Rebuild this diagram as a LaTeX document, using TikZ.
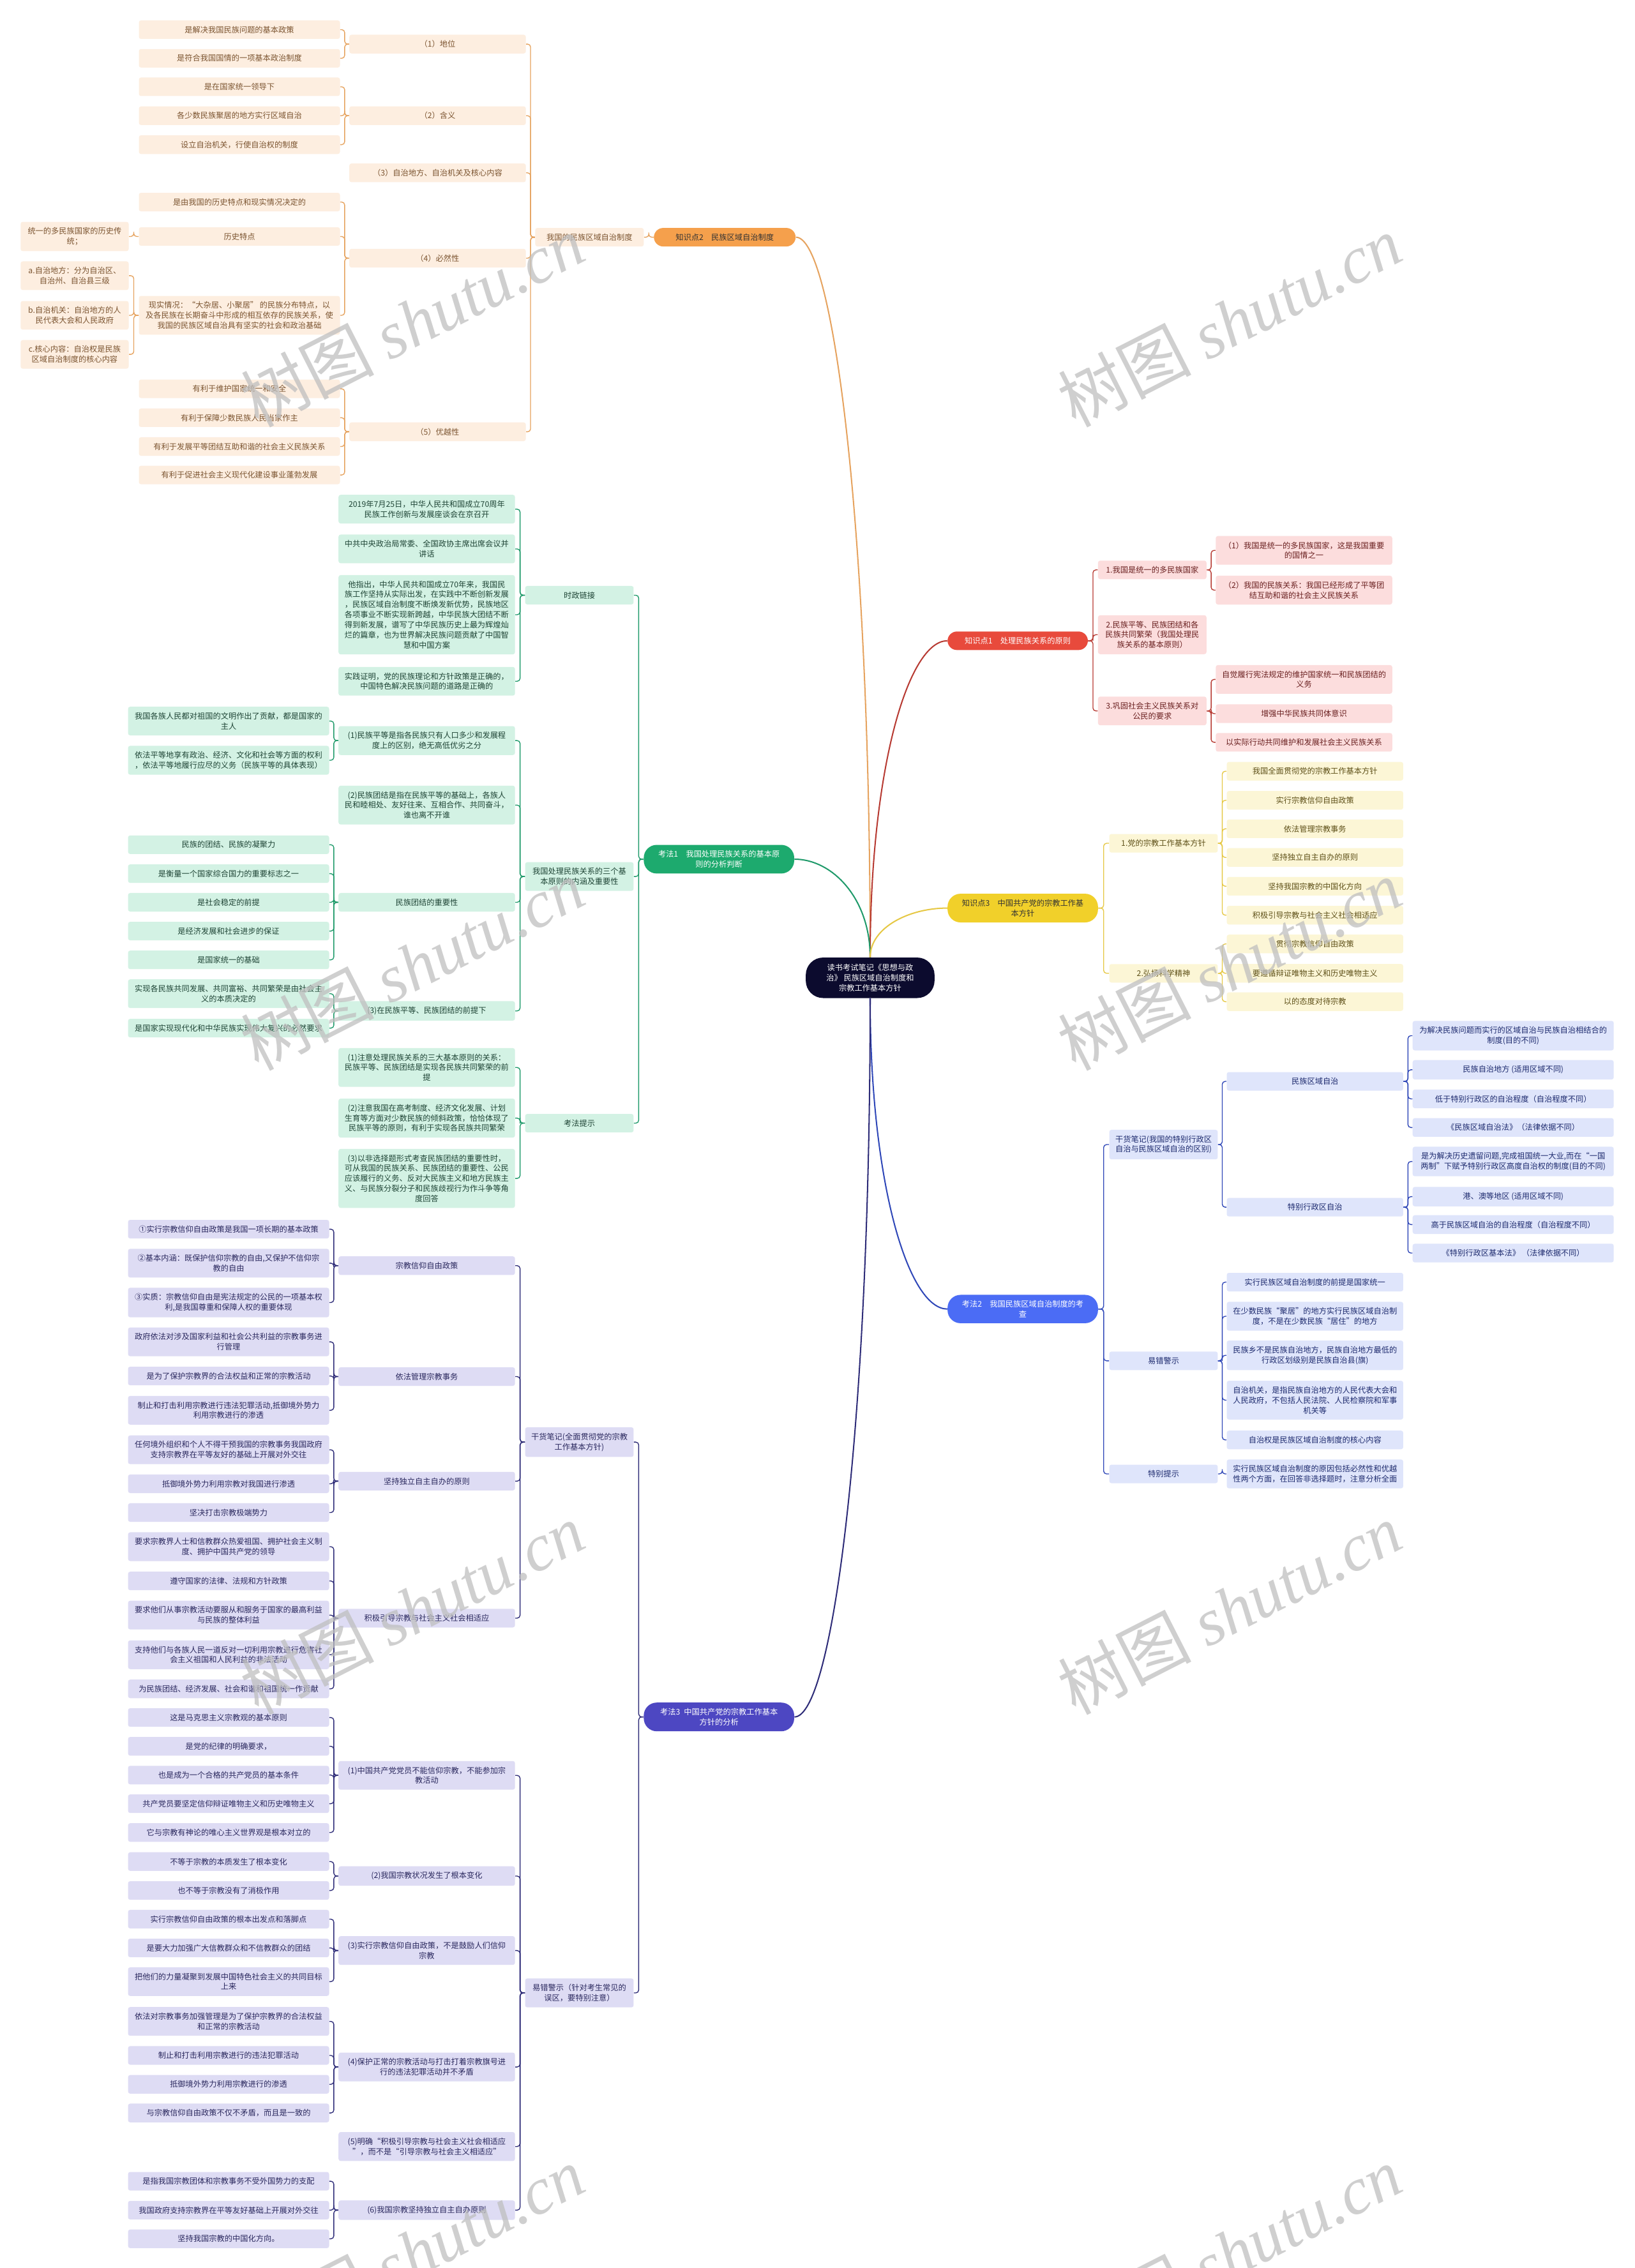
\documentclass[tikz,border=0pt]{standalone}
\usepackage{fontspec}
\setmainfont{Noto Sans CJK SC}
\newfontfamily\wmlatin{Liberation Serif}
\usetikzlibrary{calc,positioning}

\definecolor{rootbg}{HTML}{0C0B2E}
\definecolor{orK}{HTML}{F5A04C}\definecolor{orBg}{HTML}{FDEEE0}\definecolor{orTx}{HTML}{7B5430}\definecolor{orLn}{HTML}{E6A35F}
\definecolor{gnK}{HTML}{1DAA6E}\definecolor{gnBg}{HTML}{D3F2E4}\definecolor{gnTx}{HTML}{1E4435}\definecolor{gnLn}{HTML}{1F9A6A}
\definecolor{rdK}{HTML}{E84A3C}\definecolor{rdBg}{HTML}{FCDDDD}\definecolor{rdTx}{HTML}{6A2020}\definecolor{rdLn}{HTML}{B73A32}
\definecolor{ylK}{HTML}{F1D02A}\definecolor{ylBg}{HTML}{FCF6D6}\definecolor{ylTx}{HTML}{5E5018}\definecolor{ylLn}{HTML}{E6C844}
\definecolor{blK}{HTML}{4B6CF5}\definecolor{blBg}{HTML}{DFE5FB}\definecolor{blTx}{HTML}{1D2A6E}\definecolor{blLn}{HTML}{2F47B8}
\definecolor{puK}{HTML}{4D47C2}\definecolor{puBg}{HTML}{DEDCF4}\definecolor{puTx}{HTML}{2A285E}\definecolor{puLn}{HTML}{2E2C78}

\tikzset{
  box/.style={rounded corners=1.5pt, align=center, inner xsep=1pt, inner ysep=3.9pt,
    minimum height=12.5pt, font=\fontsize{5.4}{7}\selectfont},
  wa/.style={minimum width=75pt},  % second level
  wb/.style={minimum width=122pt}, % third level
  wc/.style={minimum width=139pt}, % leaves
  kp/.style={box, text=white, minimum width=104pt, rounded corners=9pt},
  ob/.style={box, fill=orBg, text=orTx},
  gb/.style={box, fill=gnBg, text=gnTx},
  pb/.style={box, fill=puBg, text=puTx},
  rb/.style={box, fill=rdBg, text=rdTx},
  yb/.style={box, fill=ylBg, text=ylTx},
  bb/.style={box, fill=blBg, text=blTx},
  % bracket connector: parent edge -> spine -> child edge
  br/.style={line width=0.6pt, rounded corners=2pt,
    to path={-| ($(\tikztostart)!0.5!(\tikztotarget)$) |- (\tikztotarget)}},
  % curves out of the central topic
  trunk/.style={line width=0.9pt,
    to path={.. controls ($(\tikztostart)!0.6!(\tikztostart|-\tikztotarget)$)
      and ($(\tikztotarget)!0.5!(\tikztostart|-\tikztotarget)$) .. (\tikztotarget)}},
  wmtext/.style={rotate=27, text=black!25, opacity=0.75, inner sep=0pt,
    font=\fontsize{46}{46}\selectfont}
}

\begin{document}
\begin{tikzpicture}[x=1pt, y=-1pt]

	\useasboundingbox (0,0) rectangle (1130,1568);
	\fill[white] (0,0) rectangle (1130,1568);

	% column centres
	\def\oxb{407.5} \def\oxc{302.5} \def\oxd{165.5} \def\oxe{51.6}
	\def\gxb{400.5} \def\gxc{295} \def\gxd{158}
	\def\rxb{796.5} \def\rxc{901.4}
	\def\bxb{804.3} \def\bxc{909} \def\bxd{1046}

	% central topic and main branches
	\node[box, fill=rootbg, text=white, minimum width=89pt, minimum height=28pt, rounded corners=12pt]
		(root) at (601.5,676) {读书考试笔记《思想与政\\治》 民族区域自治制度和\\宗教工作基本方针};
	\node[kp, fill=orK, text=black!80, minimum width=98pt, rounded corners=6.5pt] (kzs2) at (501,164) {知识点2\quad 民族区域自治制度};
	\node[kp, fill=rdK, minimum width=97pt, rounded corners=6.5pt] (kzs1) at (703.5,443) {知识点1\quad 处理民族关系的原则};
	\node[kp, fill=gnK] (kf1) at (497,594) {考法1\quad 我国处理民族关系的基本原\\则的分析判断};
	\node[kp, fill=ylK, text=black!80] (kzs3) at (707,627.8) {知识点3\quad 中国共产党的宗教工作基\\本方针};
	\node[kp, fill=blK] (kf2) at (707,905) {考法2\quad 我国民族区域自治制度的考\\查};
	\node[kp, fill=puK] (kf3) at (497,1187) {考法3\enspace 中国共产党的宗教工作基本\\方针的分析};

	\draw[orLn, trunk] (root.north) to (kzs2.east);
	\draw[rdLn, trunk] (root.north) to (kzs1.west);
	\draw[gnLn, trunk] (root.north) to (kf1.east);
	\draw[ylLn, trunk] (root.north) to (kzs3.west);
	\draw[blLn, trunk] (root.south) to (kf2.west);
	\draw[puLn, trunk] (root.south) to (kf3.east);

	% ---------- knowledge point 2 (orange) ----------
	\node[ob, wa] (o2) at (\oxb,164) {我国的民族区域自治制度};
	\draw[orLn, br] (kzs2.west) to (o2.east);
	\foreach \i/\y/\t in {1/30.5/{（1）地位}, 2/80/{（2）含义}, 3/119.5/{（3）自治地方、自治机关及核心内容},
		4/178.5/{（4）必然性}, 5/298.5/{（5）优越性}} {
		\node[ob, wb] (o3-\i) at (\oxc,\y) {\t};
		\draw[orLn, br] (o2.west) to (o3-\i.east);
	}
	\foreach \i/\p/\y/\t in {
		1/1/20.5/{是解决我国民族问题的基本政策},
		2/1/40.3/{是符合我国国情的一项基本政治制度},
		3/2/60/{是在国家统一领导下},
		4/2/80/{各少数民族聚居的地方实行区域自治},
		5/2/100/{设立自治机关，行使自治权的制度},
		6/4/139.7/{是由我国的历史特点和现实情况决定的},
		7/4/163.5/{历史特点},
		8/4/218/{现实情况：“大杂居、小聚居” 的民族分布特点，以\\及各民族在长期奋斗中形成的相互依存的民族关系，使\\我国的民族区域自治具有坚实的社会和政治基础},
		9/5/268.8/{有利于维护国家统一和安全},
		10/5/288.8/{有利于保障少数民族人民当家作主},
		11/5/308.7/{有利于发展平等团结互助和谐的社会主义民族关系},
		12/5/328.4/{有利于促进社会主义现代化建设事业蓬勃发展}} {
		\node[ob, wc] (o4-\i) at (\oxd,\y) {\t};
		\draw[orLn, br] (o3-\p.west) to (o4-\i.east);
	}
	\foreach \i/\p/\y/\t in {
		1/7/163.5/{统一的多民族国家的历史传\\统；},
		2/8/190.6/{a.自治地方：分为自治区、\\自治州、自治县三级},
		3/8/218/{b.自治机关：自治地方的人\\民代表大会和人民政府},
		4/8/245/{c.核心内容：自治权是民族\\区域自治制度的核心内容}} {
		\node[ob, minimum width=74.7pt] (o5-\i) at (\oxe,\y) {\t};
		\draw[orLn, br] (o4-\p.west) to (o5-\i.east);
	}

	% ---------- method 1 (green) ----------
	\foreach \i/\y/\t in {1/411.5/{时政链接}, 2/606/{我国处理民族关系的三个基\\本原则的内涵及重要性}, 3/776.5/{考法提示}} {
		\node[gb, wa] (g2-\i) at (\gxb,\y) {\t};
		\draw[gnLn, br] (kf1.west) to (g2-\i.east);
	}
	\foreach \i/\p/\y/\t in {
		1/1/352/{2019年7月25日，中华人民共和国成立70周年\\民族工作创新与发展座谈会在京召开},
		2/1/379.5/{中共中央政治局常委、全国政协主席出席会议并\\讲话},
		3/1/425/{他指出，中华人民共和国成立70年来，我国民\\族工作坚持从实际出发，在实践中不断创新发展\\，民族区域自治制度不断焕发新优势，民族地区\\各项事业不断实现新跨越，中华民族大团结不断\\得到新发展，谱写了中华民族历史上最为辉煌灿\\烂的篇章，也为世界解决民族问题贡献了中国智\\慧和中国方案},
		4/1/471/{实践证明，党的民族理论和方针政策是正确的，\\中国特色解决民族问题的道路是正确的},
		5/2/512/{(1)民族平等是指各民族只有人口多少和发展程\\度上的区别，绝无高低优劣之分},
		6/2/556.6/{(2)民族团结是指在民族平等的基础上，各族人\\民和睦相处、友好往来、互相合作、共同奋斗，\\谁也离不开谁},
		7/2/623.8/{民族团结的重要性},
		8/2/698.9/{(3)在民族平等、民族团结的前提下},
		9/3/738/{(1)注意处理民族关系的三大基本原则的关系：\\民族平等、民族团结是实现各民族共同繁荣的前\\提},
		10/3/773/{(2)注意我国在高考制度、经济文化发展、计划\\生育等方面对少数民族的倾斜政策，恰恰体现了\\民族平等的原则，有利于实现各民族共同繁荣},
		11/3/814.7/{(3)以非选择题形式考查民族团结的重要性时，\\可从我国的民族关系、民族团结的重要性、公民\\应该履行的义务、反对大民族主义和地方民族主\\义、与民族分裂分子和民族歧视行为作斗争等角\\度回答}} {
		\node[gb, wb] (g3-\i) at (\gxc,\y) {\t};
		\draw[gnLn, br] (g2-\p.west) to (g3-\i.east);
	}
	\foreach \i/\p/\y/\t in {
		1/5/498.5/{我国各族人民都对祖国的文明作出了贡献，都是国家的\\主人},
		2/5/525.6/{依法平等地享有政治、经济、文化和社会等方面的权利\\，依法平等地履行应尽的义务（民族平等的具体表现）},
		3/7/584/{民族的团结、民族的凝聚力},
		4/7/604/{是衡量一个国家综合国力的重要标志之一},
		5/7/623.8/{是社会稳定的前提},
		6/7/643.7/{是经济发展和社会进步的保证},
		7/7/663.6/{是国家统一的基础},
		8/8/687/{实现各民族共同发展、共同富裕、共同繁荣是由社会主\\义的本质决定的},
		9/8/710.8/{是国家实现现代化和中华民族实现伟大复兴的必然要求}} {
		\node[gb, wc] (g4-\i) at (\gxd,\y) {\t};
		\draw[gnLn, br] (g3-\p.west) to (g4-\i.east);
	}

	% ---------- method 3 (lavender) ----------
	\foreach \i/\y/\t in {1/997/{干货笔记(全面贯彻党的宗教\\工作基本方针)}, 2/1377.8/{易错警示（针对考生常见的\\误区，要特别注意）}} {
		\node[pb, wa] (p2-\i) at (\gxb,\y) {\t};
		\draw[puLn, br] (kf3.west) to (p2-\i.east);
	}
	\foreach \i/\p/\y/\t in {
		1/1/875/{宗教信仰自由政策},
		2/1/951.7/{依法管理宗教事务},
		3/1/1024/{坚持独立自主自办的原则},
		4/1/1118.7/{积极引导宗教与社会主义社会相适应},
		5/2/1227.4/{(1)中国共产党党员不能信仰宗教，不能参加宗\\教活动},
		6/2/1297/{(2)我国宗教状况发生了根本变化},
		7/2/1348.5/{(3)实行宗教信仰自由政策，不是鼓励人们信仰\\宗教},
		8/2/1429/{(4)保护正常的宗教活动与打击打着宗教旗号进\\行的违法犯罪活动并不矛盾},
		9/2/1484/{(5)明确“积极引导宗教与社会主义社会相适应\\”，而不是“引导宗教与社会主义相适应”},
		10/2/1528/{(6)我国宗教坚持独立自主自办原则}} {
		\node[pb, wb] (p3-\i) at (\gxc,\y) {\t};
		\draw[puLn, br] (p2-\p.west) to (p3-\i.east);
	}
	\foreach \i/\p/\y/\t in {
		1/1/849.8/{①实行宗教信仰自由政策是我国一项长期的基本政策},
		2/1/873.3/{②基本内涵：既保护信仰宗教的自由,又保护不信仰宗\\教的自由},
		3/1/900.5/{③实质：宗教信仰自由是宪法规定的公民的一项基本权\\利,是我国尊重和保障人权的重要体现},
		4/2/927.7/{政府依法对涉及国家利益和社会公共利益的宗教事务进\\行管理},
		5/2/951.3/{是为了保护宗教界的合法权益和正常的宗教活动},
		6/2/975/{制止和打击利用宗教进行违法犯罪活动,抵御境外势力\\利用宗教进行的渗透},
		7/3/1002.3/{任何境外组织和个人不得干预我国的宗教事务我国政府\\支持宗教界在平等友好的基础上开展对外交往},
		8/3/1025.8/{抵御境外势力利用宗教对我国进行渗透},
		9/3/1045.7/{坚决打击宗教极端势力},
		10/4/1069.3/{要求宗教界人士和信教群众热爱祖国、拥护社会主义制\\度、拥护中国共产党的领导},
		11/4/1093/{遵守国家的法律、法规和方针政策},
		12/4/1116.6/{要求他们从事宗教活动要服从和服务于国家的最高利益\\与民族的整体利益},
		13/4/1144/{支持他们与各族人民一道反对一切利用宗教进行危害社\\会主义祖国和人民利益的非法活动},
		14/4/1167.6/{为民族团结、经济发展、社会和谐和祖国统一作贡献},
		15/5/1187.4/{这是马克思主义宗教观的基本原则},
		16/5/1207.3/{是党的纪律的明确要求，},
		17/5/1227.2/{也是成为一个合格的共产党员的基本条件},
		18/5/1247/{共产党员要坚定信仰辩证唯物主义和历史唯物主义},
		19/5/1266.9/{它与宗教有神论的唯心主义世界观是根本对立的},
		20/6/1287/{不等于宗教的本质发生了根本变化},
		21/6/1307/{也不等于宗教没有了消极作用},
		22/7/1326.8/{实行宗教信仰自由政策的根本出发点和落脚点},
		23/7/1346.7/{是要大力加强广大信教群众和不信教群众的团结},
		24/7/1370/{把他们的力量凝聚到发展中国特色社会主义的共同目标\\上来},
		25/8/1397.5/{依法对宗教事务加强管理是为了保护宗教界的合法权益\\和正常的宗教活动},
		26/8/1421/{制止和打击利用宗教进行的违法犯罪活动},
		27/8/1441/{抵御境外势力利用宗教进行的渗透},
		28/8/1460.8/{与宗教信仰自由政策不仅不矛盾，而且是一致的},
		29/10/1508/{是指我国宗教团体和宗教事务不受外国势力的支配},
		30/10/1528/{我国政府支持宗教界在平等友好基础上开展对外交往},
		31/10/1547.8/{坚持我国宗教的中国化方向。}} {
		\node[pb, wc] (p4-\i) at (\gxd,\y) {\t};
		\draw[puLn, br] (p3-\p.west) to (p4-\i.east);
	}

	% ---------- knowledge point 1 (red) ----------
	\foreach \i/\y/\t in {1/394/{1.我国是统一的多民族国家},
		2/438.8/{2.民族平等、民族团结和各\\民族共同繁荣（我国处理民\\族关系的基本原则）},
		3/491.5/{3.巩固社会主义民族关系对\\公民的要求}} {
		\node[rb, wa] (r2-\i) at (\rxb,\y) {\t};
		\draw[rdLn, br] (kzs1.east) to (r2-\i.west);
	}
	\foreach \i/\p/\y/\t in {
		1/1/380.5/{（1）我国是统一的多民族国家，这是我国重要\\的国情之一},
		2/1/408/{（2）我国的民族关系：我国已经形成了平等团\\结互助和谐的社会主义民族关系},
		3/3/469.7/{自觉履行宪法规定的维护国家统一和民族团结的\\义务},
		4/3/493.4/{增强中华民族共同体意识},
		5/3/513.2/{以实际行动共同维护和发展社会主义民族关系}} {
		\node[rb, wb] (r3-\i) at (\rxc,\y) {\t};
		\draw[rdLn, br] (r2-\p.east) to (r3-\i.west);
	}

	% ---------- knowledge point 3 (yellow) ----------
	\foreach \i/\y/\t in {1/583/{1.党的宗教工作基本方针}, 2/672.9/{2.弘扬科学精神}} {
		\node[yb, wa] (y2-\i) at (\bxb,\y) {\t};
		\draw[ylLn, br] (kzs3.east) to (y2-\i.west);
	}
	\foreach \i/\p/\y/\t in {
		1/1/533.2/{我国全面贯彻党的宗教工作基本方针},
		2/1/553.3/{实行宗教信仰自由政策},
		3/1/573/{依法管理宗教事务},
		4/1/592.8/{坚持独立自主自办的原则},
		5/1/612.7/{坚持我国宗教的中国化方向},
		6/1/632.7/{积极引导宗教与社会主义社会相适应},
		7/2/652.6/{贯彻宗教信仰自由政策},
		8/2/672.9/{要遵循辩证唯物主义和历史唯物主义},
		9/2/692.5/{以的态度对待宗教}} {
		\node[yb, wb] (y3-\i) at (\bxc,\y) {\t};
		\draw[ylLn, br] (y2-\p.east) to (y3-\i.west);
	}

	% ---------- method 2 (blue) ----------
	\foreach \i/\y/\t in {1/791.3/{干货笔记(我国的特别行政区\\自治与民族区域自治的区别)}, 2/940.8/{易错警示}, 3/1019/{特别提示}} {
		\node[bb, wa] (b2-\i) at (\bxb,\y) {\t};
		\draw[blLn, br] (kf2.east) to (b2-\i.west);
	}
	\foreach \i/\p/\y/\t in {
		1/1/747.6/{民族区域自治},
		2/1/834.6/{特别行政区自治},
		3/2/886.4/{实行民族区域自治制度的前提是国家统一},
		4/2/910/{在少数民族“聚居”的地方实行民族区域自治制\\度，不是在少数民族“居住”的地方},
		5/2/937/{民族乡不是民族自治地方，民族自治地方最低的\\行政区划级别是民族自治县(旗)},
		6/2/968/{自治机关，是指民族自治地方的人民代表大会和\\人民政府，不包括人民法院、人民检察院和军事\\机关等},
		7/2/995.5/{自治权是民族区域自治制度的核心内容},
		8/3/1019/{实行民族区域自治制度的原因包括必然性和优越\\性两个方面，在回答非选择题时，注意分析全面}} {
		\node[bb, wb] (b3-\i) at (\bxc,\y) {\t};
		\draw[blLn, br] (b2-\p.east) to (b3-\i.west);
	}
	\foreach \i/\p/\y/\t in {
		1/1/716/{为解决民族问题而实行的区域自治与民族自治相结合的\\制度(目的不同)},
		2/1/739.6/{民族自治地方 (适用区域不同)},
		3/1/759.7/{低于特别行政区的自治程度（自治程度不同）},
		4/1/779.5/{《民族区域自治法》（法律依据不同）},
		5/2/803/{是为解决历史遗留问题,完成祖国统一大业,而在“一国\\两制”下赋予特别行政区高度自治权的制度(目的不同)},
		6/2/827.3/{港、澳等地区 (适用区域不同)},
		7/2/846.6/{高于民族区域自治的自治程度（自治程度不同）},
		8/2/866.3/{《特别行政区基本法》 （法律依据不同）}} {
		\node[bb, wc] (b4-\i) at (\bxd,\y) {\t};
		\draw[blLn, br] (b3-\p.east) to (b4-\i.west);
	}

	% watermark
	\foreach \wx in {285,850}
	\foreach \wy in {222,667,1112,1557}
		\node[wmtext] (wm-\wx-\wy) at (\wx,\wy) {树图 {\wmlatin\itshape shutu.cn}};

\end{tikzpicture}
\end{document}
